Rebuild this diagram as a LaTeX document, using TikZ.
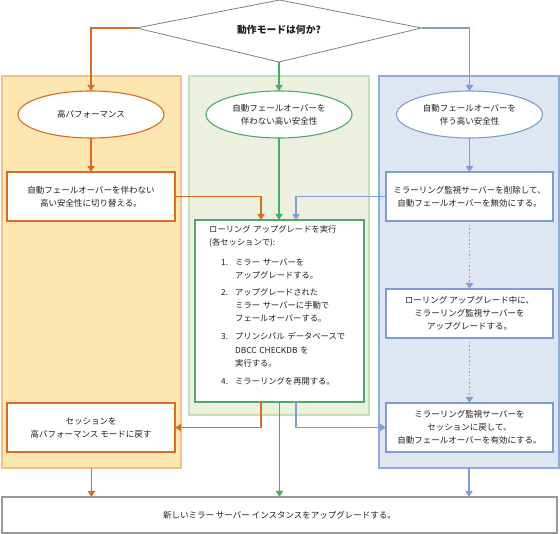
\documentclass[tikz,border=0pt]{standalone}
\usepackage{fontspec}
\setmainfont{Noto Sans CJK JP}
\usetikzlibrary{shapes.geometric,arrows.meta,calc}
\definecolor{ofill}{RGB}{253,230,176}
\definecolor{oedge}{RGB}{246,192,140}
\definecolor{gfill}{RGB}{235,241,222}
\definecolor{gedge}{RGB}{197,224,180}
\definecolor{bfill}{RGB}{222,230,242}
\definecolor{bedge}{RGB}{143,170,220}
\definecolor{oline}{RGB}{216,108,36}
\definecolor{gline}{RGB}{77,170,106}
\definecolor{bline}{RGB}{127,156,213}
\definecolor{txt}{RGB}{30,30,30}
\newcommand\numitem[2]{\hspace*{12pt}\makebox[14pt][l]{#1}#2}
\begin{document}
\begin{tikzpicture}[x=1pt,y=-1pt,
  font=\fontsize{8.5}{13}\selectfont, text=txt,
  lane/.style={draw, line width=1.2pt, inner sep=0, outer sep=0},
  stepbox/.style={draw, fill=white, line width=1.1pt, inner sep=0, outer sep=0, minimum width=168, minimum height=49, align=center},
  oval/.style={ellipse, draw, fill=white, line width=1.1pt, inner sep=0, outer sep=0, minimum width=146, minimum height=47, align=center},
  arr/.style={line width=1.5pt, -{Triangle[width=7pt,length=6pt]}},
  dotarr/.style={arr, dash pattern=on 1.5pt off 2.2pt}
]
\useasboundingbox (0,0) rectangle (560,534);
% lanes
\node[lane, fill=ofill, draw=oedge, minimum width=179, minimum height=392] (olane) at (91.5,272) {};
\node[lane, fill=gfill, draw=gedge, minimum width=180, minimum height=339] (glane) at (279,245.5) {};
\node[lane, fill=blue!0!bfill, draw=bedge, minimum width=180, minimum height=392] (blane) at (469,272) {};
% decision
\node[diamond, inner sep=0, outer sep=0, minimum width=285, minimum height=68] (dia) at (279,28) {};
\coordinate (diatop) at (279.5,0);
\filldraw[draw=black!50, fill=white, line width=0.8pt] (dia.west) -- (diatop) -- (dia.east) -- (dia.south) -- cycle;
\node[font=\fontsize{9.8}{12}\selectfont\bfseries, inner sep=0] (dialbl) at ([yshift=-2pt]dia.center) {動作モードは何か?};
% ellipses
\node[oval, draw=oline] (e1) at (91,114.5) {高パフォーマンス};
\node[oval, draw=gline] (e2) at (279,114.5) {自動フェールオーバーを\\伴わない高い安全性};
\node[oval, draw=bline] (e3) at (469.5,114.5) {自動フェールオーバーを\\伴う高い安全性};
% boxes
\node[stepbox, draw=oline] (o1) at (91,196.5) {自動フェールオーバーを伴わない\\高い安全性に切り替える。};
\node[stepbox, draw=bline, minimum width=167] (b1) at (469.5,196.5) {ミラーリング監視サーバーを削除して、\\自動フェールオーバーを無効にする。};
\node[stepbox, draw=gline, minimum width=169, minimum height=182] (roll) at (279.5,311) {};
\node[anchor=north west, inner sep=0, text width=155, align=left,
  font=\fontsize{8.3}{13.3}\selectfont] (rolltxt) at (209,225) {%
ローリング アップグレードを実行\\
(各セッションで):\\[6.5pt]
\numitem{1.}{ミラー サーバーを}\\
\numitem{}{アップグレードする。}\\[3.5pt]
\numitem{2.}{アップグレードされた}\\
\numitem{}{ミラー サーバーに手動で}\\
\numitem{}{フェールオーバーする。}\\[4.5pt]
\numitem{3.}{プリンシパル データベースで}\\
\numitem{}{DBCC CHECKDB を}\\
\numitem{}{実行する。}\\[4.5pt]
\numitem{4.}{ミラーリングを再開する。}};
\node[stepbox, draw=bline, minimum width=167] (b2) at (469.5,313.5) {ローリング アップグレード中に、\\ミラーリング監視サーバーを\\アップグレードする。};
\node[stepbox, draw=bline, minimum width=167] (b3) at (469.5,427.5) {ミラーリング監視サーバーを\\セッションに戻して、\\自動フェールオーバーを有効にする。};
\node[stepbox, draw=oline] (o2) at (91,427.5) {セッションを\\高パフォーマンス モードに戻す};
\node[stepbox, draw=black!40, minimum width=555, minimum height=36] (fin) at (279.5,515) {新しいミラー サーバー インスタンスをアップグレードする。};
% connectors
\draw[arr, oline] (dia.west) -| (e1.north);
\draw[arr, gline] (dia.south) -- (e2.north);
\draw[arr, bline] (dia.east) -| (e3.north);
\draw[arr, oline] (e1.south) -- (o1.north);
\draw[arr, gline] (e2.south) -- (e2.south |- roll.north);
\draw[arr, bline] (e3.south) -- (b1.north);
\draw[arr, oline] (o1.east) -| ([xshift=-18.5pt]roll.north);
\draw[arr, bline] (b1.west) -| ([xshift=16.5pt]roll.north);
\draw[dotarr, bline] (b1.south) -- (b2.north);
\draw[dotarr, bline] (b2.south) -- (b3.north);
\draw[arr, oline] ([xshift=-18.5pt]roll.south) |- (o2.east);
\draw[arr, bline] ([xshift=16.5pt]roll.south) |- (b3.west);
\draw[arr, gline] (roll.south) -- (roll.south |- fin.north);
\draw[arr, oline] (olane.south) -- (olane.south |- fin.north);
\draw[arr, bline] (blane.south) -- (blane.south |- fin.north);
\end{tikzpicture}
\end{document}
